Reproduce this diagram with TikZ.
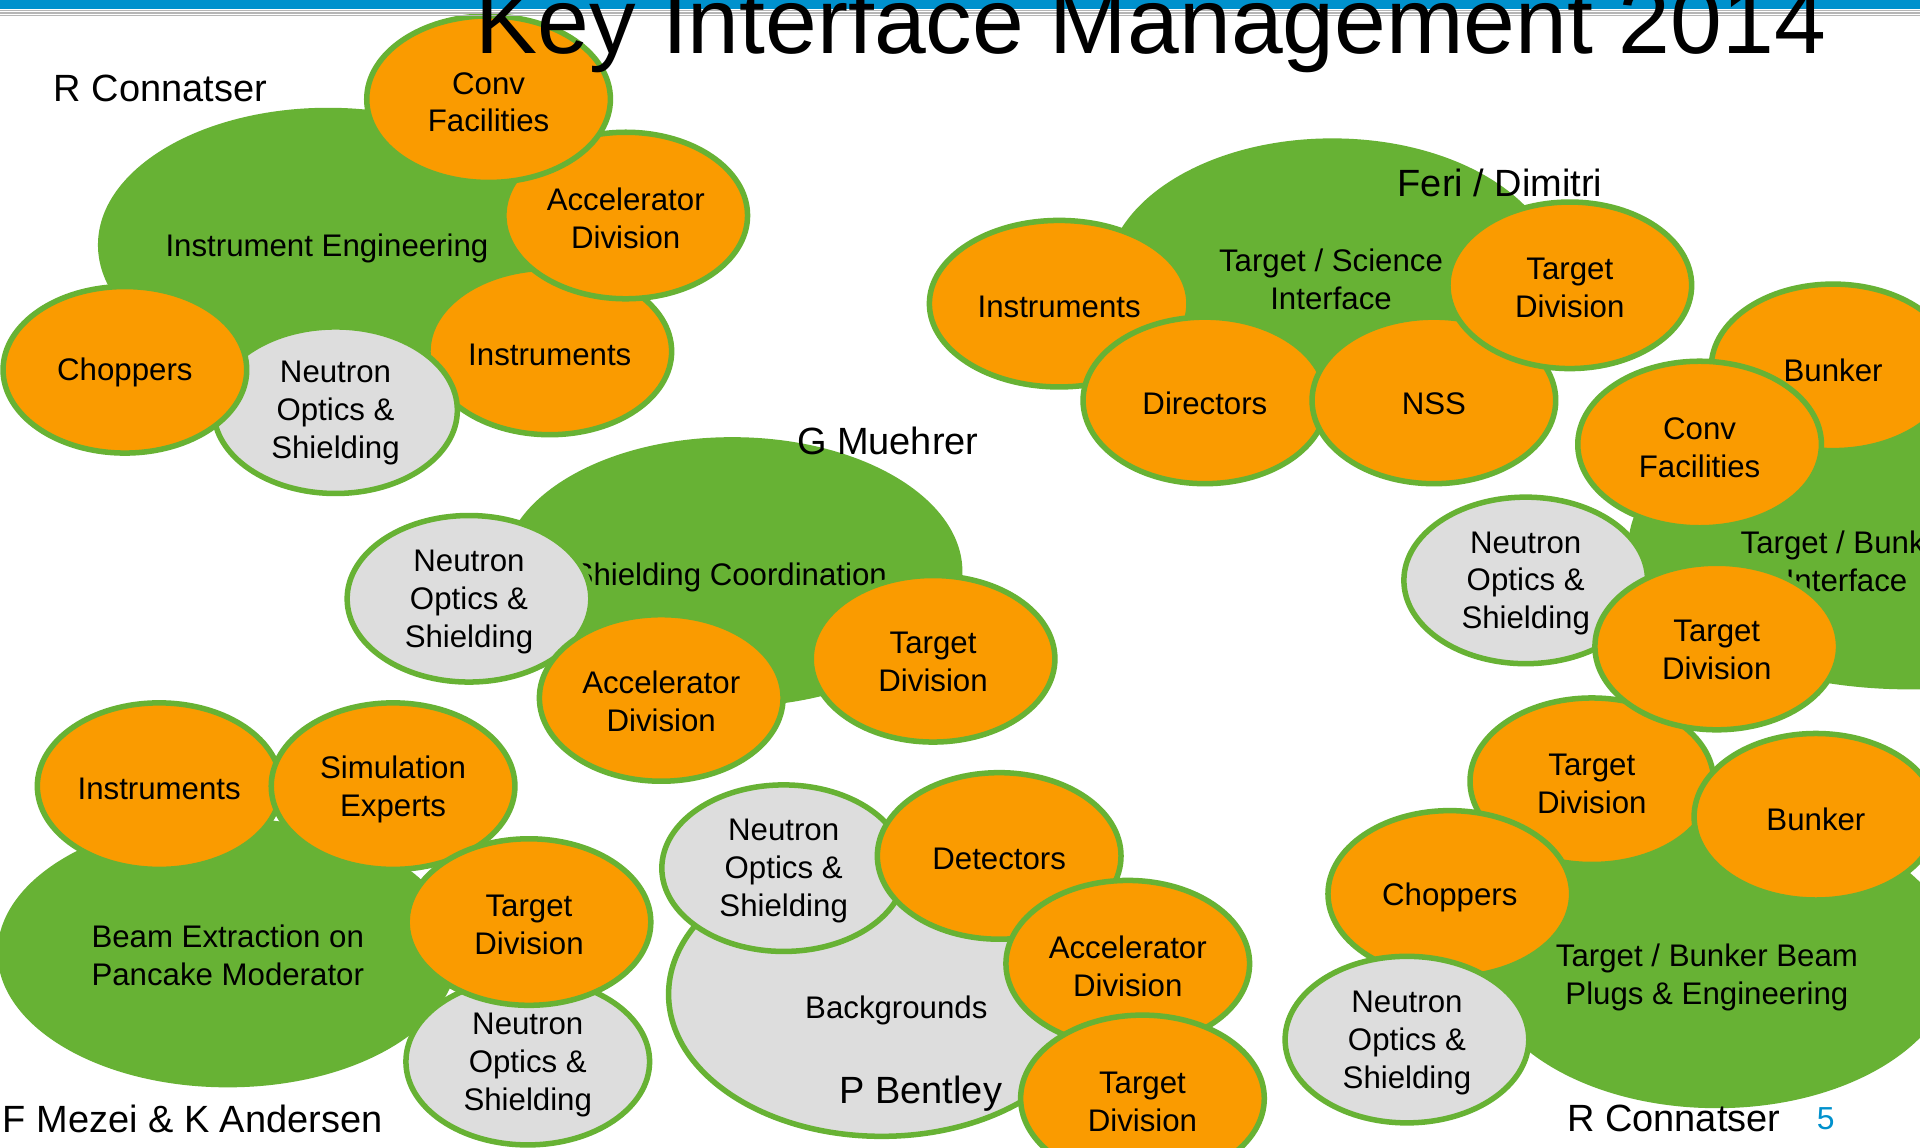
\documentclass[tikz,border=0pt]{standalone}
\usepackage{fontspec}
\setmainfont{Liberation Sans}
\usetikzlibrary{shapes.geometric}
\definecolor{kgreen}{RGB}{103,178,52}
\definecolor{korange}{RGB}{250,155,0}
\definecolor{kgray}{RGB}{221,221,221}
\definecolor{kblue}{RGB}{0,145,205}
\definecolor{kline}{RGB}{182,182,182}
\newcommand{\kbody}{\fontsize{25.5}{31}\selectfont}
\newcommand{\klabel}{\fontsize{31}{36}\selectfont}
% bubble: style, name, position, text
\newcommand{\kb}[4]{%
  \node[#1] (#2) at (#3) {};
  \node[bodytext] (#2-t) at (#2.center) {#4};}
\begin{document}
\begin{tikzpicture}[x=1pt,y=-1pt,
  bubble/.style={ellipse, draw=kgreen, line width=4.5pt, minimum width=199pt, minimum height=136pt, inner sep=0pt},
  obubble/.style={bubble, fill=korange},
  gbubble/.style={bubble, fill=kgray},
  bigblob/.style={ellipse, fill=kgreen, inner sep=0pt},
  bodytext/.style={align=center, font=\kbody, inner sep=0pt, yshift=-2.5pt},
  lbl/.style={font=\klabel, inner sep=0pt},
]
\useasboundingbox[fill=white] (0,0) rectangle (1568,937);

% ---------- Group 1: Instrument Engineering ----------
\node[bigblob, minimum width=376pt, minimum height=224pt] (ie) at (268,200) {};
\node[bodytext] (ietxt) at (267,200) {Instrument Engineering};
\kb{obubble}{ie-ins}{449,287}{Instruments}
\kb{obubble}{ie-acc}{511,176}{Accelerator\\Division}
\kb{obubble}{ie-conv}{399,81}{Conv\\Facilities}
\kb{gbubble}{ie-nos}{274,335}{Neutron\\Optics \&\\Shielding}
\kb{obubble}{ie-chop}{102,302}{Choppers}
\node[lbl] (rc1) at (131,72) {R Connatser};

% ---------- Group 2: Target / Science Interface ----------
\node[bigblob, minimum width=370pt, minimum height=232pt] (tsi) at (1088,229) {};
\node[bodytext] (tsitxt) at (1087,226) {Target / Science\\Interface};
\node[lbl] (fd) at (1225,149) {Feri / Dimitri};
\kb{obubble, minimum width=212pt}{tsi-ins}{865,248}{Instruments}
\kb{obubble}{tsi-dir}{984,327}{Directors}
\kb{obubble}{tsi-nss}{1171,327}{NSS}
\kb{obubble}{tsi-td}{1282,233}{Target\\Division}

% ---------- Group 7: Target / Bunker Beam Plugs ----------
\node[bigblob, minimum width=390pt, minimum height=242pt] (tbb) at (1402,784) {};
\node[bodytext] (tbbtxt) at (1394,796) {Target / Bunker Beam\\Plugs \& Engineering};
\kb{obubble}{tbb-td}{1300,638}{Target\\Division}
\kb{obubble}{tbb-bunk}{1483,667}{Bunker}
\kb{obubble}{tbb-chop}{1184,730}{Choppers}
\kb{gbubble}{tbb-nos}{1149,849}{Neutron\\Optics \&\\Shielding}
\node[lbl] (rc2) at (1367,913) {R Connatser};
\node[font=\fontsize{26}{30}\selectfont, text=kblue, inner sep=0pt] (pg) at (1491,914) {5};

% ---------- Group 3: Target / Bunker Interface ----------
\node[bigblob, minimum width=460pt, minimum height=236pt] (tbi) at (1560,445) {};
\node[bodytext] (tbitxt) at (1508,456) {Target / Bunker\\Interface};
\kb{obubble}{tbi-bunk}{1497,300}{Bunker}
\kb{gbubble}{tbi-nos}{1246,474}{Neutron\\Optics \&\\Shielding}
\kb{obubble}{tbi-conv}{1388,363}{Conv\\Facilities}
\kb{obubble}{tbi-td}{1402,528}{Target\\Division}

% ---------- Group 4: Shielding Coordination ----------
\node[bigblob, minimum width=376pt, minimum height=220pt] (sc) at (598,467) {};
\node[bodytext] (sctxt) at (596,469) {Shielding Coordination};
\node[lbl] (gm) at (725,360) {G Muehrer};
\kb{gbubble}{sc-nos}{383,489}{Neutron\\Optics \&\\Shielding}
\kb{obubble}{sc-acc}{540,570}{Accelerator\\Division}
\kb{obubble}{sc-td}{762,538}{Target\\Division}

% ---------- Group 5: Beam Extraction ----------
\node[bigblob, minimum width=376pt, minimum height=220pt] (be) at (186,778) {};
\node[bodytext] (betxt) at (186,778) {Beam Extraction on\\Pancake Moderator};
\kb{obubble}{be-ins}{130,642}{Instruments}
\kb{obubble}{be-sim}{321,642}{Simulation\\Experts}
\kb{gbubble}{be-nos}{431,867}{Neutron\\Optics \&\\Shielding}
\kb{obubble}{be-td}{432,753}{Target\\Division}
\node[lbl, anchor=west] (fm) at (2,914) {F Mezei \& K Andersen};

% ---------- Group 6: Backgrounds ----------
\node[ellipse, draw=kgreen, fill=kgray, line width=4.5pt, inner sep=0pt, minimum width=348pt, minimum height=232pt] (bg) at (720,812) {};
\node[bodytext] (bgtxt) at (732,823) {Backgrounds};
\node[lbl] (pb) at (752,893) {P Bentley};
\kb{gbubble}{bg-nos}{640,709}{Neutron\\Optics \&\\Shielding}
\kb{obubble}{bg-det}{816,699}{Detectors}
\kb{obubble}{bg-acc}{921,787}{Accelerator\\Division}
\kb{obubble}{bg-td}{933,897}{Target\\Division}

% ---------- Header ----------
\fill[kblue] (0,0) rectangle (1568,7.3);
\draw[kline, line width=0.9pt] (0,8.7) -- (1568,8.7);
\draw[kline, line width=0.9pt] (0,10.6) -- (1568,10.6);
\draw[kline, line width=0.9pt] (0,12.8) -- (1568,12.8);
\node[font=\fontsize{76}{80}\selectfont, anchor=base, inner sep=0pt] (title) at (940,44) {Key Interface Management 2014};
\end{tikzpicture}
\end{document}
